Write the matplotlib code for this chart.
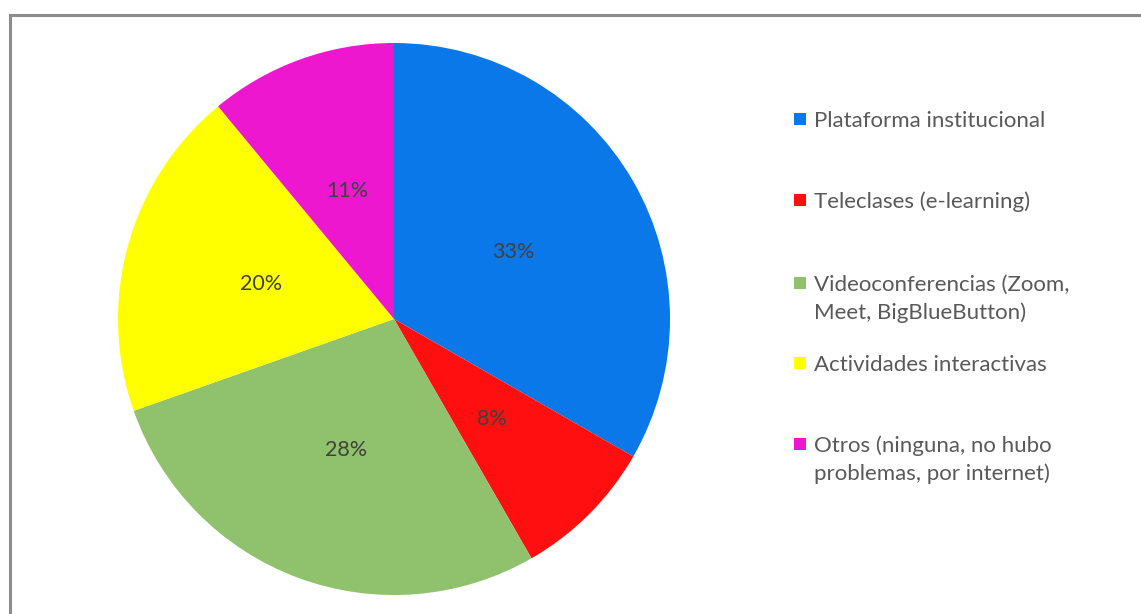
import matplotlib
matplotlib.use("Agg")
import matplotlib.pyplot as plt
from matplotlib.patches import Rectangle
import numpy as np

categories = [
    "Plataforma institucional",
    "Teleclases (e-learning)",
    "Videoconferencias (Zoom,\nMeet, BigBlueButton)",
    "Actividades interactivas",
    "Otros (ninguna, no hubo\nproblemas, por internet)",
]
shares = [33.3, 8.4, 27.9, 19.4, 11.0]
pct_labels = ["33%", "8%", "28%", "20%", "11%"]
colors = ["#0A78E9", "#FF0F0F", "#90C16C", "#FFFF00", "#EE17D0"]

W, H = 1141, 614
fig = plt.figure(figsize=(W / 100, H / 100), dpi=100)
fig.patch.set_facecolor("white")

# outer chart frame (extends beyond right/bottom edges)
fig.patches.append(Rectangle((9.5 / W, -0.1), 1.2, (H - 14.5) / H + 0.1,
                             transform=fig.transFigure, fill=False,
                             edgecolor="#8C8C8C", linewidth=2.2, zorder=0))

cx, cy, r = 394, 319, 276
ax = fig.add_axes([(cx - r) / W, (H - cy - r) / H, 2 * r / W, 2 * r / H])
wedges, texts = ax.pie(shares, colors=colors, startangle=90, counterclock=False,
                       radius=1.0, wedgeprops=dict(linewidth=0))
ax.set_xlim(-1, 1)
ax.set_ylim(-1, 1)
ax.set_aspect("equal")
ax.axis("off")

dy = 2.0 / r  # small baseline correction
for w, lab in zip(wedges, pct_labels):
    ang = np.deg2rad((w.theta1 + w.theta2) / 2)
    ax.text(0.5 * np.cos(ang), 0.5 * np.sin(ang) - dy, lab, ha="center", va="center",
            fontsize=15.5, color="#404040", family="Lato")

# legend
legend_y = [119, 200, 283, 363, 444]
line_step = 28
for lab, col, y in zip(categories, colors, legend_y):
    fig.patches.append(Rectangle((794 / W, (H - y - 6) / H), 12 / W, 12 / H,
                                 transform=fig.transFigure, facecolor=col,
                                 edgecolor="none"))
    for i, line in enumerate(lab.split("\n")):
        fig.text(814 / W, (H - y - 2 - i * line_step) / H, line, ha="left",
                 va="center", fontsize=16, color="#595959", family="Lato")

fig.savefig("out.png", dpi=100)
